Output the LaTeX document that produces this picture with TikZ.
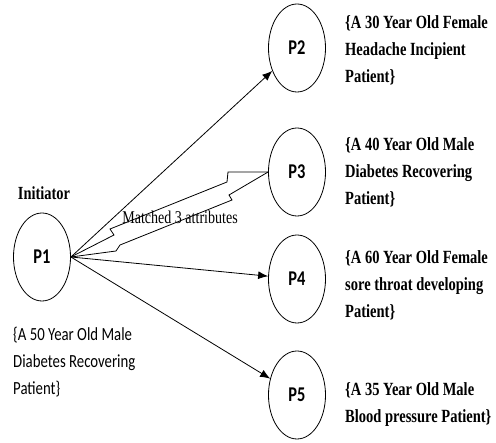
\documentclass[tikz,border=0pt]{standalone}
\usepackage{fontspec}
\usetikzlibrary{shapes.geometric,arrows.meta}
\newfontfamily\timesc[FakeStretch=0.78]{Liberation Serif}
\newfontfamily\carlc[FakeStretch=0.8]{Carlito}
\newfontfamily\carlp[FakeStretch=0.78]{Carlito}
\begin{document}
\begin{tikzpicture}[x=1pt,y=-1pt,
  pnode/.style={ellipse, draw, line width=0.8pt, minimum width=57pt, minimum height=88pt, inner sep=0pt, font=\carlp\bfseries\fontsize{21}{21}\selectfont},
  desc/.style={anchor=base west, inner sep=0pt, font=\timesc\bfseries\fontsize{18.6}{27}\selectfont},
  ldesc/.style={anchor=base west, inner sep=0pt, font=\carlc\fontsize{18.5}{27}\selectfont},
  arr/.style={line width=0.8pt, -{Latex[length=10pt,width=8pt]}},
  hollow/.style={line width=0.8pt, line join=miter}]
\useasboundingbox (0,0) rectangle (496,443);
\node[pnode] (P1) at (42,257) {P1};
\node[pnode] (P2) at (297,48) {P2};
\node[pnode] (P3) at (297,172) {P3};
\node[pnode] (P4) at (297,279) {P4};
\node[pnode] (P5) at (297,395) {P5};
\node[font=\timesc\bfseries\fontsize{18.5}{18.5}\selectfont] (init) at (44,193) {Initiator};
\node[font=\timesc\fontsize{18}{18}\selectfont] (match) at (180,217) {Matched 3 attributes};
\node[ldesc] (T1) at (13,341) {\begin{tabular}[t]{@{}l@{}}\{A 50 Year Old Male\\ Diabetes Recovering\\ Patient\}\end{tabular}};
\node[desc] (T2) at (345,29) {\begin{tabular}[t]{@{}l@{}}\{A 30 Year Old Female\\ Headache Incipient\\ Patient\}\end{tabular}};
\node[desc] (T3) at (345,151) {\begin{tabular}[t]{@{}l@{}}\{A 40 Year Old Male\\ Diabetes Recovering\\ Patient\}\end{tabular}};
\node[desc] (T4) at (345,264) {\begin{tabular}[t]{@{}l@{}}\{A 60 Year Old Female\\ sore throat developing\\ Patient\}\end{tabular}};
\node[desc] (T5) at (345,396) {\begin{tabular}[t]{@{}l@{}}\{A 35 Year Old Male\\ Blood pressure Patient\}\end{tabular}};
\coordinate (O) at (P1.east);
\draw[arr] (O) -- (P2);
\draw[arr] (O) -- (P4);
\draw[arr] (O) -- (P5);
\draw[hollow] (O) -- (114,235) -- (110,229) -- (227,182) -- (228,172) -- (P3.west);
\draw[hollow] (O) -- (116,251) -- (120,245) -- (232,200) -- (229,195) -- (P3.west);
\end{tikzpicture}
\end{document}
